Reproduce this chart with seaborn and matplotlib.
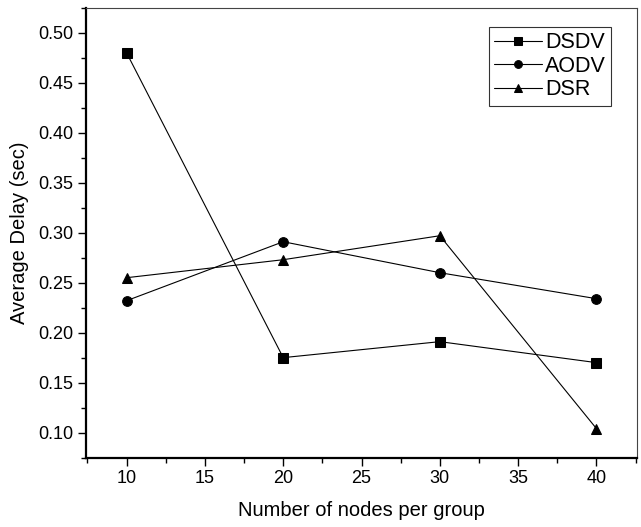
import matplotlib
matplotlib.use("Agg")
import matplotlib.pyplot as plt
import seaborn as sns
import pandas as pd
from matplotlib.ticker import MultipleLocator

nodes = [10, 20, 30, 40]
dsdv = [0.480, 0.175, 0.191, 0.170]
aodv = [0.232, 0.291, 0.260, 0.234]
dsr = [0.255, 0.273, 0.297, 0.104]
series_names = ["DSDV", "AODV", "DSR"]

df = pd.DataFrame({
    "nodes": nodes * 3,
    "delay": dsdv + aodv + dsr,
    "protocol": [series_names[0]] * 4 + [series_names[1]] * 4 + [series_names[2]] * 4,
})

sns.set_style("white")
plt.rcParams["font.family"] = ["Liberation Sans", "DejaVu Sans"]
plt.rcParams["text.color"] = "black"
plt.rcParams["axes.labelcolor"] = "black"
plt.rcParams["xtick.color"] = "black"
plt.rcParams["ytick.color"] = "black"

fig = plt.figure(figsize=(6.41, 5.27), dpi=100)
ax = fig.add_axes([0.134, 0.131, 0.860, 0.854])

sns.lineplot(data=df, x="nodes", y="delay", hue="protocol", style="protocol",
             hue_order=series_names, style_order=series_names,
             palette=["black"] * 3,
             markers={"DSDV": "s", "AODV": "o", "DSR": "^"}, dashes=False,
             markersize=7, linewidth=0.8, markeredgecolor="black", ax=ax)

ax.set_xlim(7.4, 42.6)
ax.set_ylim(0.0746, 0.525)
ax.xaxis.set_major_locator(MultipleLocator(5))
ax.xaxis.set_minor_locator(MultipleLocator(2.5))
ax.yaxis.set_major_locator(MultipleLocator(0.05))
ax.yaxis.set_minor_locator(MultipleLocator(0.025))
ax.yaxis.set_major_formatter(matplotlib.ticker.FormatStrFormatter("%.2f"))

ax.tick_params(axis="both", which="major", direction="out", length=6, width=1,
               labelsize=13, color="black", labelcolor="black",
               bottom=True, left=True, pad=3)
ax.tick_params(axis="both", which="minor", direction="out", length=3.5, width=1,
               color="black", bottom=True, left=True)

for side in ["left", "bottom"]:
    ax.spines[side].set_linewidth(1.6)
    ax.spines[side].set_color("black")
for side in ["top", "right"]:
    ax.spines[side].set_linewidth(0.8)
    ax.spines[side].set_color("#444444")

ax.set_xlabel("Number of nodes per group", fontsize=14.5, labelpad=10, color="black")
ax.set_ylabel("Average Delay (sec)", fontsize=14.5, labelpad=7, color="black")

leg = ax.legend(loc="upper right", bbox_to_anchor=(0.953, 0.958), fontsize=15.5,
                frameon=True, fancybox=False, edgecolor="black",
                handlelength=2.2, handletextpad=0.15, borderpad=0.25,
                labelspacing=0.12, borderaxespad=0, markerscale=0.8)
leg.get_frame().set_linewidth(0.8)
for t in leg.get_texts():
    t.set_color("black")

fig.savefig("out.png", dpi=100)
